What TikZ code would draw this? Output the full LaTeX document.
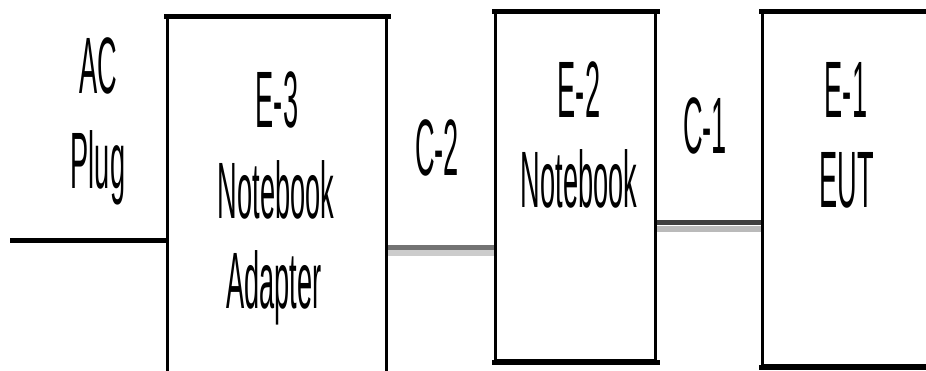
\documentclass[tikz,border=0pt]{standalone}
\usepackage{fontspec}
\setmainfont{Liberation Sans}
\usepackage{graphicx}
\newcommand{\nartext}[1]{\scalebox{0.34}[1]{#1}}
\begin{document}
\begin{tikzpicture}[x=1pt,y=-1pt,
  lbl/.style={inner sep=0pt, anchor=base, font=\fontsize{80}{90}\selectfont},
  unit/.style={draw, line width=3pt, inner sep=0pt},
  edgethick/.style={line width=5pt, line cap=rect},
  acline/.style={line width=5pt},
  cdark/.style={line width=5pt, draw=#1},
  clight/.style={line width=6pt, draw=#1}]
\clip (0,0) rectangle (926,370);
\useasboundingbox (0,0) rectangle (926,370);
% units
\node[unit, minimum width=219pt, minimum height=402.5pt] (e3) at (277,218.75) {};
\node[unit, minimum width=160pt, minimum height=348pt] (e2) at (575.5,186.5) {};
\node[unit, minimum width=167.5pt, minimum height=353pt] (e1) at (846.25,189) {};
\foreach \n in {e3,e2,e1}{
  \draw[edgethick] (\n.north west) -- (\n.north east);
  \draw[edgethick] (\n.south west) -- (\n.south east);
}
% connectors
\coordinate (acend) at (10,240);
\draw[acline] (acend) -- (e3.west |- acend);
\coordinate (ytwodark) at (0,247.5);
\coordinate (ytwolight) at (0,253);
\draw[cdark=black!55] (e3.east |- ytwodark) -- (e2.west |- ytwodark);
\draw[clight=black!20] (e3.east |- ytwolight) -- (e2.west |- ytwolight);
\coordinate (yonedark) at (0,222.5);
\coordinate (yonelight) at (0,228.5);
\draw[cdark=black!75] (e2.east |- yonedark) -- (e1.west |- yonedark);
\draw[clight=black!27] (e2.east |- yonelight) -- (e1.west |- yonelight);
% labels
\node[lbl] (ac) at (98,93) {\nartext{AC}};
\node[lbl] (plug) at (98,188) {\nartext{Plug}};
\node[lbl] (e3a) at (277,127) {\nartext{E-3}};
\node[lbl] (e3b) at (276,218) {\nartext{Notebook}};
\node[lbl] (e3c) at (274,308) {\nartext{Adapter}};
\node[lbl] (c2) at (437,175) {\nartext{C-2}};
\node[lbl] (e2a) at (579,117) {\nartext{E-2}};
\node[lbl] (e2b) at (579,207) {\nartext{Notebook}};
\node[lbl] (c1) at (705,153) {\nartext{C-1}};
\node[lbl] (e1a) at (846,117) {\nartext{E-1}};
\node[lbl] (e1b) at (847,207) {\nartext{EUT}};
\end{tikzpicture}
\end{document}
